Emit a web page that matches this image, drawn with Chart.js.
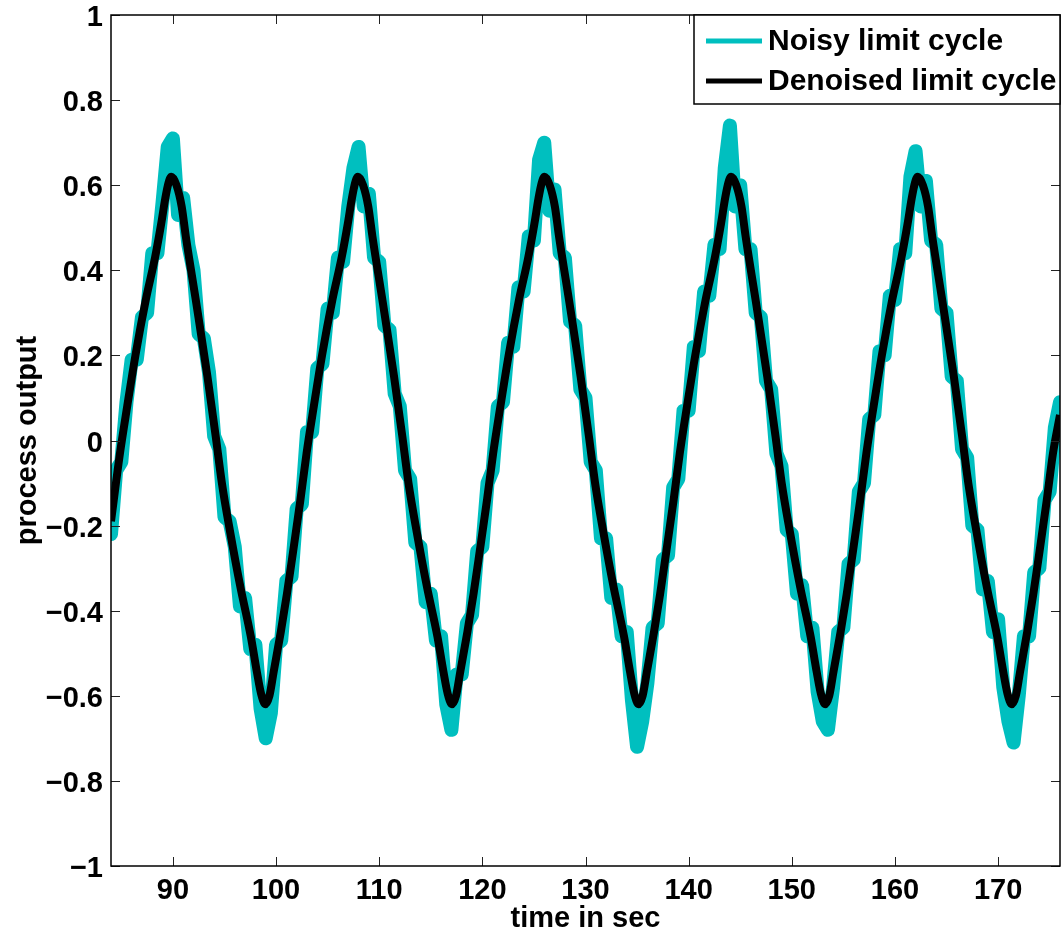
<!DOCTYPE html>
<html>
<head>
<meta charset="utf-8">
<title>Limit cycle</title>
<script src="https://cdn.jsdelivr.net/npm/chart.js@4.4.1/dist/chart.umd.min.js"></script>
<style>
  html, body { margin: 0; padding: 0; background: #fff; }
  #wrap { width: 1061px; height: 936px; }
</style>
</head>
<body>
<div id="wrap"><canvas id="cycleChart" width="1061" height="936"></canvas></div>
<script>
// Tick labels
const xTicks = [90, 100, 110, 120, 130, 140, 150, 160, 170];
const yTicks = [-1, -0.8, -0.6, -0.4, -0.2, 0, 0.2, 0.4, 0.6, 0.8, 1];

// Denoised limit cycle (time in sec)
const denoisedTimes = [
    84.00, 84.87, 85.57, 86.37, 87.37, 88.27, 88.87, 89.27, 89.57,
    89.85, 90.35, 90.85, 91.25, 92.35, 93.35, 94.15, 94.75, 95.55, 96.55, 97.55, 98.15, 98.55,
    98.96, 99.36, 99.76, 100.46, 101.06, 101.66, 102.36, 102.96, 103.66, 104.46, 105.46, 106.36, 106.96, 107.36, 107.66,
    107.94, 108.44, 108.94, 109.34, 110.44, 111.44, 112.24, 112.84, 113.64, 114.64, 115.64, 116.24, 116.64,
    117.05, 117.45, 117.85, 118.55, 119.15, 119.75, 120.45, 121.05, 121.75, 122.55, 123.55, 124.45, 125.05, 125.45, 125.75,
    126.03, 126.53, 127.03, 127.43, 128.53, 129.53, 130.33, 130.93, 131.73, 132.73, 133.73, 134.33, 134.73,
    135.14, 135.54, 135.94, 136.64, 137.24, 137.84, 138.54, 139.14, 139.84, 140.64, 141.64, 142.54, 143.14, 143.54, 143.84,
    144.12, 144.62, 145.12, 145.52, 146.62, 147.62, 148.42, 149.02, 149.82, 150.82, 151.82, 152.42, 152.82,
    153.23, 153.63, 154.03, 154.73, 155.33, 155.93, 156.63, 157.23, 157.93, 158.73, 159.73, 160.63, 161.23, 161.63, 161.93,
    162.21, 162.71, 163.21, 163.61, 164.71, 165.71, 166.51, 167.11, 167.91, 168.91, 169.91, 170.51, 170.91,
    171.32, 171.72, 172.12, 172.82, 173.42, 174.02, 174.72, 175.32, 176.00
];
const denoisedValues = [
    -0.19, -0.03, 0.08, 0.20, 0.33, 0.43, 0.51, 0.57, 0.605,
    0.62, 0.60, 0.55, 0.48, 0.31, 0.15, 0.01, -0.10, -0.215, -0.345, -0.46, -0.545, -0.595,
    -0.62, -0.60, -0.545, -0.45, -0.36, -0.26, -0.14, -0.03, 0.08, 0.20, 0.33, 0.43, 0.51, 0.57, 0.605,
    0.62, 0.60, 0.55, 0.48, 0.31, 0.15, 0.01, -0.10, -0.215, -0.345, -0.46, -0.545, -0.595,
    -0.62, -0.60, -0.545, -0.45, -0.36, -0.26, -0.14, -0.03, 0.08, 0.20, 0.33, 0.43, 0.51, 0.57, 0.605,
    0.62, 0.60, 0.55, 0.48, 0.31, 0.15, 0.01, -0.10, -0.215, -0.345, -0.46, -0.545, -0.595,
    -0.62, -0.60, -0.545, -0.45, -0.36, -0.26, -0.14, -0.03, 0.08, 0.20, 0.33, 0.43, 0.51, 0.57, 0.605,
    0.62, 0.60, 0.55, 0.48, 0.31, 0.15, 0.01, -0.10, -0.215, -0.345, -0.46, -0.545, -0.595,
    -0.62, -0.60, -0.545, -0.45, -0.36, -0.26, -0.14, -0.03, 0.08, 0.20, 0.33, 0.43, 0.51, 0.57, 0.605,
    0.62, 0.60, 0.55, 0.48, 0.31, 0.15, 0.01, -0.10, -0.215, -0.345, -0.46, -0.545, -0.595,
    -0.62, -0.60, -0.545, -0.45, -0.36, -0.26, -0.14, -0.03, 0.06
];

// Noisy limit cycle, sampled every 0.5 s from 84 s
const noisyStart = 84;
const noisyStep = 0.5;
const noisyValues = [
    -0.22, -0.07, -0.05, 0.09, 0.19, 0.19, 0.29, 0.30, 0.44, 0.44,      // 84
    0.56, 0.69, 0.71, 0.53, 0.57, 0.46, 0.40, 0.25, 0.24, 0.16,         // 89
    0.01, -0.02, -0.18, -0.19, -0.25, -0.39, -0.37, -0.49, -0.48, -0.63, // 94
    -0.70, -0.64, -0.48, -0.47, -0.33, -0.32, -0.16, -0.15, 0.02, 0.02, // 99
    0.17, 0.18, 0.31, 0.30, 0.43, 0.42, 0.55, 0.64, 0.69, 0.55,         // 104
    0.58, 0.43, 0.42, 0.27, 0.26, 0.11, 0.08, -0.07, -0.09, -0.24,      // 109
    -0.25, -0.38, -0.36, -0.47, -0.46, -0.62, -0.68, -0.55, -0.55, -0.43, // 114
    -0.41, -0.26, -0.25, -0.10, -0.07, 0.08, 0.09, 0.23, 0.22, 0.36,    // 119
    0.35, 0.48, 0.47, 0.66, 0.70, 0.54, 0.59, 0.44, 0.43, 0.28,         // 124
    0.27, 0.12, 0.10, -0.05, -0.07, -0.23, -0.23, -0.37, -0.35, -0.46,  // 129
    -0.45, -0.61, -0.72, -0.66, -0.57, -0.44, -0.43, -0.28, -0.27, -0.11, // 134
    -0.09, 0.07, 0.07, 0.22, 0.21, 0.35, 0.34, 0.46, 0.45, 0.64,        // 139
    0.74, 0.55, 0.60, 0.45, 0.45, 0.30, 0.29, 0.14, 0.12, -0.03,        // 144
    -0.06, -0.21, -0.22, -0.36, -0.34, -0.46, -0.44, -0.59, -0.66, -0.68, // 149
    -0.58, -0.45, -0.44, -0.29, -0.28, -0.12, -0.10, 0.05, 0.06, 0.21,  // 154
    0.20, 0.34, 0.33, 0.45, 0.44, 0.62, 0.68, 0.55, 0.61, 0.47,         // 159
    0.46, 0.31, 0.30, 0.15, 0.14, -0.02, -0.04, -0.20, -0.21, -0.35,    // 164
    -0.33, -0.45, -0.42, -0.58, -0.66, -0.71, -0.60, -0.46, -0.46, -0.31, // 169
    -0.30, -0.14, -0.12, 0.03, 0.09                                     // 174
];

const seriesNames = ['Noisy limit cycle', 'Denoised limit cycle'];
const cyan = '#00bfbf';
const fontFamily = "'Liberation Sans', Arial, Helvetica, sans-serif";

// Box, inward ticks and legend in the MATLAB style
const matlabFrame = {
    id: 'matlabFrame',
    afterDraw(chart) {
        const ctx = chart.ctx;
        const a = chart.chartArea;
        const x = chart.scales.x;
        const y = chart.scales.y;
        ctx.save();

        // Tick marks on all four sides
        ctx.strokeStyle = '#222';
        ctx.lineWidth = 1;
        ctx.beginPath();
        xTicks.forEach(v => {
            const px = Math.round(x.getPixelForValue(v)) + 0.5;
            ctx.moveTo(px, a.bottom);
            ctx.lineTo(px, a.bottom - 9);
            ctx.moveTo(px, a.top);
            ctx.lineTo(px, a.top + 9);
        });
        yTicks.forEach(v => {
            const py = Math.round(y.getPixelForValue(v)) + 0.5;
            ctx.moveTo(a.left, py);
            ctx.lineTo(a.left + 9, py);
            ctx.moveTo(a.right, py);
            ctx.lineTo(a.right - 9, py);
        });
        ctx.stroke();

        // Axes box
        ctx.strokeStyle = '#000';
        ctx.lineWidth = 1.5;
        ctx.strokeRect(a.left, a.top, a.right - a.left, a.bottom - a.top);

        // Legend box in the top right corner
        const boxW = 366, boxH = 89;
        const bx = a.right - boxW;
        const by = a.top;
        ctx.fillStyle = '#fff';
        ctx.fillRect(bx, by, boxW, boxH);
        ctx.lineWidth = 1.5;
        ctx.strokeRect(bx, by, boxW, boxH);

        const colors = [cyan, '#000'];
        ctx.font = 'bold 30px ' + fontFamily;
        ctx.textBaseline = 'middle';
        ctx.textAlign = 'left';
        seriesNames.forEach((name, i) => {
            const ly = by + 26 + i * 40;
            ctx.strokeStyle = colors[i];
            ctx.lineWidth = 5;
            ctx.beginPath();
            ctx.moveTo(bx + 12, ly);
            ctx.lineTo(bx + 68, ly);
            ctx.stroke();
            ctx.fillStyle = '#000';
            ctx.fillText(name, bx + 74, ly + 1);
        });

        ctx.restore();
    }
};

const tickFont = { family: fontFamily, size: 29, weight: 'bold' };
const titleFont = { family: fontFamily, size: 29, weight: 'bold' };

new Chart(document.getElementById('cycleChart'), {
    type: 'line',
    data: {
        datasets: [{
            label: seriesNames[0],
            data: noisyValues.map((v, i) => ({ x: noisyStart + i * noisyStep, y: v })),
            borderColor: cyan,
            borderWidth: 14,
            borderJoinStyle: 'round',
            borderCapStyle: 'round',
            pointRadius: 0,
            tension: 0,
            clip: 0,
            order: 2
        }, {
            label: seriesNames[1],
            data: denoisedTimes.map((t, i) => ({ x: t, y: denoisedValues[i] })),
            borderColor: '#000',
            borderWidth: 8,
            borderJoinStyle: 'round',
            pointRadius: 0,
            cubicInterpolationMode: 'monotone',
            clip: 0,
            order: 1
        }]
    },
    options: {
        responsive: false,
        animation: false,
        devicePixelRatio: 1,
        layout: { padding: { top: 15, right: 1, left: 0, bottom: 0 } },
        plugins: {
            legend: { display: false },
            tooltip: { enabled: false }
        },
        scales: {
            x: {
                type: 'linear',
                min: 84,
                max: 176,
                grid: { display: false, drawTicks: false },
                border: { display: false },
                afterBuildTicks: scale => { scale.ticks = xTicks.map(v => ({ value: v })); },
                afterFit: scale => {
                    scale.height = 70;
                    scale.paddingLeft = 0;
                    scale.paddingRight = 0;
                },
                ticks: { font: tickFont, color: '#000', padding: 8, maxRotation: 0, autoSkip: false },
                title: { display: true, text: 'time in sec', font: titleFont, color: '#000', padding: 0 }
            },
            y: {
                type: 'linear',
                min: -1,
                max: 1,
                grid: { display: false, drawTicks: false },
                border: { display: false },
                afterBuildTicks: scale => { scale.ticks = yTicks.map(v => ({ value: v })); },
                afterFit: scale => {
                    scale.width = 111;
                    scale.paddingTop = 0;
                    scale.paddingBottom = 0;
                },
                ticks: {
                    font: tickFont,
                    color: '#000',
                    padding: 8,
                    labelOffset: 3,
                    autoSkip: false,
                    callback: v => String(Math.round(v * 10) / 10).replace('-', '\u2212')
                },
                title: {
                    display: true,
                    text: 'process output',
                    font: { family: fontFamily, size: 29, weight: 'bold', lineHeight: 1.9 },
                    color: '#000',
                    padding: 0
                }
            }
        }
    },
    plugins: [matlabFrame]
});
</script>
</body>
</html>
